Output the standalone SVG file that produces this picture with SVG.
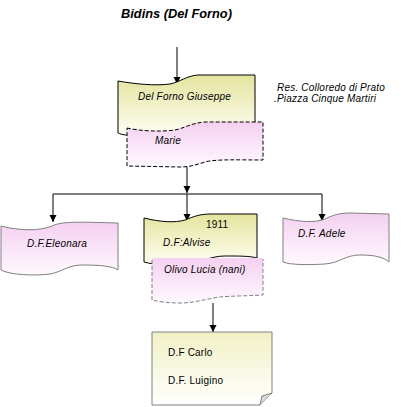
<svg xmlns="http://www.w3.org/2000/svg" width="412" height="407" viewBox="0 0 412 407">
  <style>
    text { font-family: "Liberation Sans", Arial, sans-serif; font-size: 10px; fill: #000; letter-spacing: 0.2px; }
    .it { font-style: italic; }
    .title { font-weight: bold; font-style: italic; font-size: 12.8px; letter-spacing: 0; }
    .yellow { fill: url(#gy); stroke: #000; stroke-width: 1; }
    .pink { fill: url(#gp); stroke: #808080; stroke-width: 1; }
    .pinkfill { fill: url(#gp); stroke: none; }
    .dash { fill: none; stroke: #000; stroke-width: 1; stroke-dasharray: 4 2; }
    .dashg { fill: none; stroke: #808080; stroke-width: 1; stroke-dasharray: 4 2; }
    .conn { fill: none; stroke: #000; stroke-width: 1; }
    .arrow { marker-end: url(#ah); }
    .note { fill: url(#gn); stroke: #808080; stroke-width: 1; }
  </style>
  <defs>
    <linearGradient id="gy" x1="0" y1="0" x2="0" y2="1">
      <stop offset="0" stop-color="#e4e49e"/>
      <stop offset="1" stop-color="#fefef4"/>
    </linearGradient>
    <linearGradient id="gp" x1="0" y1="0" x2="0" y2="1">
      <stop offset="0" stop-color="#f5d0f1"/>
      <stop offset="1" stop-color="#fff9fe"/>
    </linearGradient>
    <linearGradient id="gn" x1="0" y1="0" x2="0" y2="1">
      <stop offset="0" stop-color="#f1f1c6"/>
      <stop offset="1" stop-color="#ffffff"/>
    </linearGradient>
    <marker id="ah" markerUnits="userSpaceOnUse" markerWidth="8" markerHeight="8" refX="7" refY="4" orient="auto">
      <path d="M0,0.5 L7,4 L0,7.5 Z" fill="#000"/>
    </marker>
  </defs>

  <text x="176.5" y="18" class="title" text-anchor="middle">Bidins (Del Forno)</text>

  <g id="connectors">
    <path class="conn arrow" d="M177,47 L177,84"/>
    <path class="conn arrow" d="M187,167 L187,193"/>
    <path class="conn" d="M53,194 L322,194"/>
    <path class="conn arrow" d="M53,194 L53,222"/>
    <path class="conn arrow" d="M187,194 L187,221"/>
    <path class="conn arrow" d="M322,194 L322,221"/>
    <path class="conn arrow" d="M213,303 L213,332"/>
  </g>

  <g id="node-delforno">
    <path class="yellow" d="M118,81 C135,84 155,86 170,84 C180,82 186,76 198,75 L255,75 L255,125 L140,135 C130,136 122,135 118,133 Z"/>
    <text x="138" y="100" class="it">Del Forno Giuseppe</text>
  </g>

  <g id="note-residence">
    <text x="277" y="91" class="it">Res. Colloredo di Prato</text>
    <text x="274" y="101.5" class="it">.Piazza Cinque Martiri</text>
  </g>

  <g id="node-marie">
    <path class="pinkfill" d="M127,128 C140,131 160,132 175,130 C185,128 191,123 205,122 L263,122 L263,160 C240,160 215,159 205,162 C195,165 190,167 180,167 L127,166 Z"/>
    <path class="dash" d="M127,128 C140,131 160,132 175,130 C185,128 191,123 205,122 L263,122 L263,160 C240,160 215,159 205,162 C195,165 190,167 180,167 L127,166 Z"/>
    <text x="155" y="144" class="it">Marie</text>
  </g>

  <g id="node-eleonara">
    <path class="pink" d="M1,226 C20,231 40,231 52,226 C62,221 80,222 118,223 L118,270 C112,266 100,265 82,265 C68,265 62,272 50,274 C35,276 10,275 1,270 Z"/>
    <text x="27" y="247" class="it">D.F.Eleonara</text>
  </g>

  <g id="node-alvise">
    <path class="yellow" d="M144,218 C160,222 175,223 185,220 C195,216 200,214 212,214 L257,214 L257,258 C250,256 240,256 225,256 C210,256 200,263 185,265 C170,266 155,265 144,262 Z"/>
    <text x="206" y="228">1911</text>
    <text x="163" y="246" class="it">D.F:Alvise</text>
  </g>

  <g id="node-adele">
    <path class="pink" d="M283,218 C300,222 315,223 325,219 C333,215 340,213 350,213 L389,214 L389,262 C383,257 375,255 360,255 C345,255 340,263 325,264 C310,265 290,265 283,262 Z"/>
    <text x="298" y="237" class="it">D.F. Adele</text>
  </g>

  <g id="node-olivo">
    <path class="pinkfill" d="M152,258 L263,258 L263,295 C245,296 230,296 220,297 C205,299 195,303 180,303 C170,303 160,302 152,300 Z"/>
    <path class="dashg" d="M152,260 L152,300 C160,302 170,303 180,303 C195,303 205,299 220,297 C230,296 245,296 263,295 L263,259"/>
    <text x="164" y="273" class="it">Olivo Lucia (nani)</text>
  </g>

  <g id="node-children">
    <path class="note" d="M152,332 L272,332 L272,393 L260,405 L152,405 Z"/>
    <path d="M260,405 L262,396 L272,393" fill="#d8d8d8" stroke="#808080" stroke-width="1"/>
    <text x="168" y="356">D.F Carlo</text>
    <text x="168" y="384">D.F. Luigino</text>
  </g>
</svg>
